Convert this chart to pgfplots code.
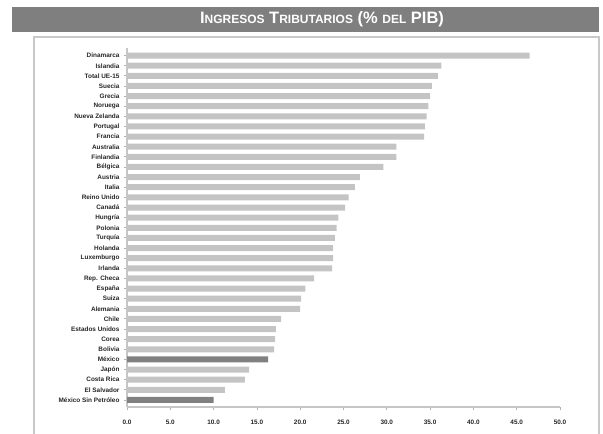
\documentclass[border=0pt]{standalone}
\usepackage{pgfplots}
\pgfplotsset{compat=1.18}
\usepackage{fontspec}
\setmainfont{Liberation Sans}
\definecolor{barlight}{HTML}{C4C4C4}
\definecolor{bardark}{HTML}{808080}
\definecolor{framegray}{HTML}{C8C8C8}
\definecolor{banner}{HTML}{7F7F7F}
\begin{document}
\begin{tikzpicture}[x=1pt,y=1pt]
\path[use as bounding box] (0,0) rectangle (603,434);
\fill[banner] (12,402) rectangle (599,427);
\node[white,font=\bfseries\fontsize{16.5}{18}\selectfont] at (322,414.5)
 {I{\fontsize{12}{13}\selectfont NGRESOS} T{\fontsize{12}{13}\selectfont RIBUTARIOS} (\% {\fontsize{12}{13}\selectfont DEL} PIB)};
\draw[framegray,line width=2pt] (34,-5) rectangle (599,397);
\begin{axis}[
  at={(127pt,27pt)}, anchor=south west,
  scale only axis, width=433pt, height=359pt,
  xbar, bar width=6pt,
  xmin=0, xmax=50, ymin=-0.75, ymax=34.7,
  y dir=reverse,
  axis lines*=left,
  axis line style={draw=gray!45, line width=1.5pt, -},
  xtick={0,5,...,50},
  ytick={0,...,34},
  yticklabels={Dinamarca,Islandia,Total UE-15,Suecia,Grecia,Noruega,Nueva Zelanda,Portugal,Francia,Australia,Finlandia,Bélgica,Austria,Italia,Reino Unido,Canadá,Hungría,Polonia,Turquía,Holanda,Luxemburgo,Irlanda,Rep. Checa,España,Suiza,Alemania,Chile,Estados Unidos,Corea,Bolivia,México,Japón,Costa Rica,El Salvador,México Sin Petróleo},
  tick style={draw=gray!60, line width=0.8pt},
  major tick length=3pt,
  xtick align=outside, ytick align=outside,
  /pgf/number format/.cd, fixed, fixed zerofill, precision=1, assume math mode=true,
  /pgfplots/.cd,
  ticklabel style={font=\bfseries\fontsize{6.4}{7}\selectfont, text=black!85},
  xticklabel style={yshift=-6pt},
  yticklabel style={xshift=-1pt},
]
\addplot[fill=barlight, draw=none, bar shift=0pt] table[x=v,y=i] {
i v
0 46.5
1 36.3
2 35.9
3 35.2
4 35.0
5 34.8
6 34.6
7 34.4
8 34.3
9 31.1
10 31.1
11 29.6
12 26.9
13 26.3
14 25.6
15 25.2
16 24.4
17 24.2
18 24.0
19 23.8
20 23.8
21 23.7
22 21.6
23 20.6
24 20.1
25 20.0
26 17.8
27 17.2
28 17.1
29 17.0
31 14.1
32 13.6
33 11.3
};
\addplot[fill=bardark, draw=none, bar shift=0pt] table[x=v,y=i] {
i v
30 16.3
34 10.0
};
\end{axis}
\end{tikzpicture}
\end{document}
